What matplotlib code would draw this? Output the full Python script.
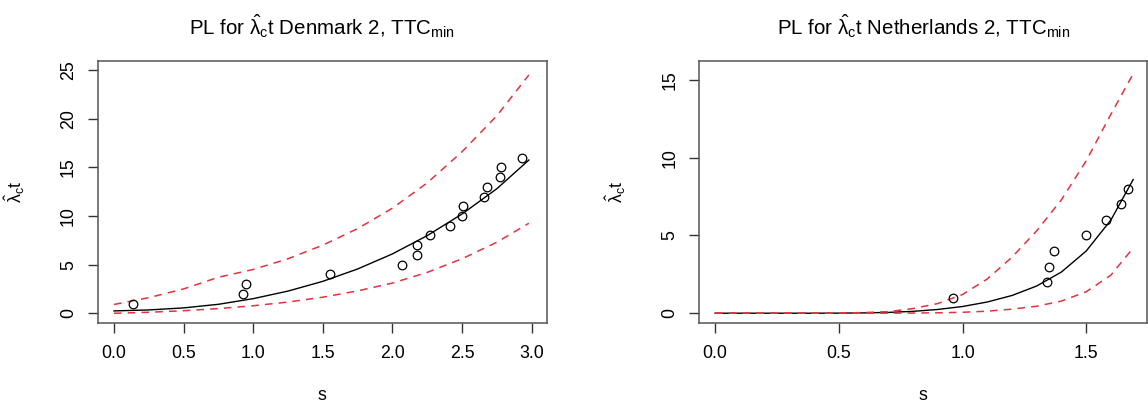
import matplotlib
matplotlib.use('Agg')
import matplotlib.pyplot as plt

plt.rcParams['font.family'] = ['Liberation Sans', 'DejaVu Sans']
plt.rcParams['mathtext.fontset'] = 'custom'
plt.rcParams['mathtext.rm'] = 'Liberation Sans'
plt.rcParams['mathtext.it'] = 'Liberation Sans'
plt.rcParams['mathtext.default'] = 'regular'

# Denmark 2: observed points
dk_s = [0.14, 0.93, 0.95, 1.55, 2.07, 2.18, 2.18, 2.27, 2.41, 2.50, 2.51,
        2.66, 2.68, 2.77, 2.78, 2.93]
dk_count = [1, 2, 3, 4, 5, 6, 7, 8, 9, 10, 11, 12, 13, 14, 15, 16]

# Denmark 2: fitted curve and bounds
dk_grid = [0, 0.25, 0.5, 0.75, 1.0, 1.25, 1.5, 1.75, 2.0, 2.25, 2.5, 2.75, 2.98]
dk_fit = [0.24, 0.34, 0.55, 0.92, 1.5, 2.28, 3.28, 4.55, 6.1, 7.98, 10.2, 12.8, 15.75]
dk_upper = [0.9, 1.6, 2.5, 3.7, 4.5, 5.6, 7.0, 8.7, 10.8, 13.4, 16.6, 20.3, 24.5]
dk_lower = [0.0, 0.1, 0.26, 0.48, 0.77, 1.15, 1.65, 2.3, 3.1, 4.2, 5.6, 7.3, 9.25]

# Netherlands 2: observed points
nl_s = [0.96, 1.34, 1.35, 1.37, 1.50, 1.58, 1.64, 1.67]
nl_count = [1, 2, 3, 4, 5, 6, 7, 8]

# Netherlands 2: fitted curve and bounds
nl_grid = [0, 0.1, 0.2, 0.3, 0.4, 0.5, 0.6, 0.7, 0.8, 0.9, 1.0, 1.1, 1.2,
           1.3, 1.4, 1.5, 1.6, 1.69]
nl_fit = [0, 0, 0, 0, 0, 0.005, 0.02, 0.05, 0.12, 0.24, 0.43, 0.72, 1.14,
          1.75, 2.65, 4.0, 6.0, 8.6]
nl_upper = [0, 0, 0, 0, 0, 0.01, 0.04, 0.1, 0.3, 0.62, 1.2, 2.2, 3.6,
            5.3, 7.3, 9.8, 12.8, 15.4]
nl_lower = [0, 0, 0, 0, 0, 0, 0, 0.005, 0.01, 0.025, 0.06, 0.13, 0.26,
            0.45, 0.78, 1.38, 2.45, 4.2]

dk_xticks = [0, 0.5, 1.0, 1.5, 2.0, 2.5, 3.0]
dk_xlabels = ['0.0', '0.5', '1.0', '1.5', '2.0', '2.5', '3.0']
dk_yticks = [0, 5, 10, 15, 20, 25]
nl_xticks = [0, 0.5, 1.0, 1.5]
nl_xlabels = ['0.0', '0.5', '1.0', '1.5']
nl_yticks = [0, 5, 10, 15]

fig = plt.figure(figsize=(11.48, 4.08), dpi=100)

panels = [
    ([0.0851, 0.2091, 0.3911, 0.6421], 'Denmark 2', dk_s, dk_count, dk_grid,
     dk_fit, dk_upper, dk_lower, dk_xticks, dk_xlabels, dk_yticks,
     (-0.117, 3.108), (-0.97, 25.96)),
    ([0.6089, 0.2091, 0.3905, 0.6421], 'Netherlands 2', nl_s, nl_count, nl_grid,
     nl_fit, nl_upper, nl_lower, nl_xticks, nl_xlabels, nl_yticks,
     (-0.065, 1.747), (-0.61, 16.24)),
]

for (pos, name, s, cnt, grid, fit, up, lo, xt, xl, yt, xlim, ylim) in panels:
    ax = fig.add_axes(pos)
    # fitted line first, bounds drawn on top of it (as in the original)
    ax.plot(grid, fit, color='black', lw=1.0)
    ax.plot(grid, up, color='#e4323e', lw=1.1, dashes=(5, 4))
    ax.plot(grid, lo, color='#e4323e', lw=1.1, dashes=(5, 4))
    ax.plot(s, cnt, 'o', mfc='none', mec='black', ms=6.2, mew=0.9)

    ax.set_xlim(*xlim)
    ax.set_ylim(*ylim)
    ax.set_xticks(xt)
    ax.set_xticklabels(xl)
    ax.set_yticks(yt)
    ax.set_yticklabels([str(v) for v in yt], rotation=90, va='center')
    ax.tick_params(length=7, width=1, labelsize=12.8, color='#333333')
    ax.tick_params(axis='x', pad=9)
    ax.tick_params(axis='y', pad=8)
    for sp in ax.spines.values():
        sp.set_color('#555555')
        sp.set_linewidth(1.1)

    ax.set_title(r'PL for $\hat{\lambda}_{c}t$ ' + name + r', TTC$_{min}$',
                 fontsize=14.8, pad=19)
    ax.set_xlabel('s', fontsize=12.8)
    ax.set_ylabel(r'$\hat{\lambda}_{c}t$', fontsize=12.8)
    ax.xaxis.set_label_coords(0.5, -0.245)
    ax.yaxis.set_label_coords(-0.158, 0.5)

plt.savefig('out.png', dpi=100)
